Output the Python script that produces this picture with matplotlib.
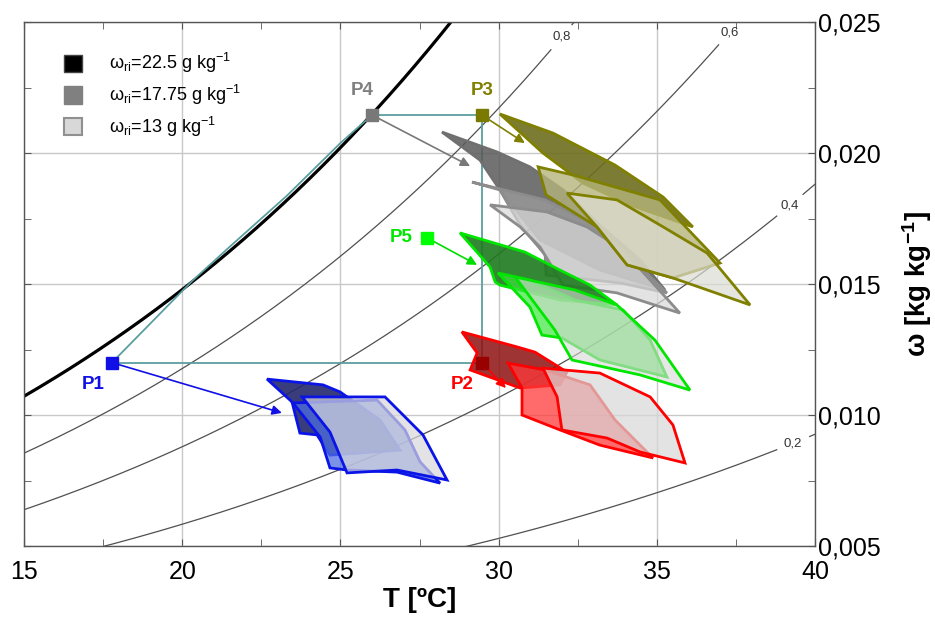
import numpy as np
import matplotlib
matplotlib.use('Agg')
import matplotlib.pyplot as plt
from matplotlib.colors import to_rgba
from matplotlib.patches import Patch
from matplotlib.ticker import MultipleLocator, FuncFormatter

plt.rcParams['font.family'] = ['Liberation Sans', 'DejaVu Sans']
plt.rcParams['mathtext.fontset'] = 'custom'
plt.rcParams['mathtext.rm'] = 'Liberation Sans'
plt.rcParams['mathtext.bf'] = 'Liberation Sans:bold'
plt.rcParams['mathtext.default'] = 'regular'

# relative humidity curves of the chart
P_ATM = 100.5  # kPa
rh_levels = [1.0, 0.8, 0.6, 0.4, 0.2]
rh_labels = ['', '0,8', '0,6', '0,4', '0,2']
rh_label_T = [None, 32.0, 37.3, 39.2, 39.3]

# state points (T in C, w in g/kg)
pt_names = ['P1', 'P2', 'P3', 'P4', 'P5']
pt_T = [17.78, 29.47, 29.47, 26.0, 27.74]
pt_w = [12.0, 12.0, 21.45, 21.45, 16.76]
arrow_T = [23.15, 30.23, 30.83, 29.10, 29.32]
arrow_w = [10.08, 11.03, 20.38, 19.50, 15.73]

# teal path P4 -> P1 (hugging the saturation line)
path_T = [26.0, 25.0, 23.3, 21.5, 20.3, 17.78]
path_w = [21.45, 20.38, 18.36, 16.42, 15.1, 12.0]

# outlet regions, one set per inlet point: dark = 22.5, mid = 17.75, light = 13 g/kg
bd_T = [22.68, 24.45, 24.99, 26.25, 26.88, 24.67, 24.26, 23.72, 23.47]
bd_w = [11.37, 11.15, 10.88, 9.81, 8.66, 8.47, 9.24, 9.31, 10.50]
bm_T = [23.50, 26.16, 27.04, 27.52, 28.15, 26.79, 25.21, 24.67, 24.36]
bm_w = [10.46, 10.57, 9.43, 8.21, 7.40, 7.82, 7.90, 7.98, 9.16]
bl_T = [23.79, 26.41, 27.61, 28.37, 26.79, 25.21, 24.67]
bl_w = [10.69, 10.69, 9.24, 7.52, 7.90, 7.79, 9.35]

rd_T = [28.84, 30.58, 31.15, 32.16, 31.94, 30.68, 29.10, 29.32]
rd_w = [13.17, 12.60, 12.40, 11.64, 11.15, 11.03, 11.72, 12.37]
rm_T = [30.30, 31.47, 32.89, 33.68, 34.88, 33.20, 31.94, 30.74, 30.74]
rm_w = [11.98, 11.72, 11.15, 9.81, 8.36, 8.85, 9.43, 10.00, 11.03]
rl_T = [31.40, 33.20, 34.79, 35.51, 35.89, 34.47, 33.43, 32.00, 31.85]
rl_w = [11.79, 11.60, 10.69, 9.62, 8.17, 8.59, 9.12, 9.43, 10.69]

gd_T = [28.78, 30.83, 31.94, 32.89, 33.74, 31.94, 30.04, 29.89, 29.73]
gd_w = [16.95, 16.22, 15.53, 14.96, 14.20, 14.39, 14.96, 15.08, 15.65]
gm_T = [29.98, 30.99, 32.41, 33.93, 34.79, 35.32, 33.20, 32.00, 31.37, 30.99]
gm_w = [15.42, 15.15, 14.39, 14.01, 12.86, 11.45, 12.10, 12.94, 13.05, 14.12]
gl_T = [30.52, 32.41, 33.74, 34.94, 36.05, 34.47, 32.32, 31.78]
gl_w = [15.27, 14.77, 14.20, 12.86, 10.95, 11.53, 12.10, 13.24]

kd_T = [28.21, 29.95, 30.99, 32.04, 33.20, 34.47, 35.26, 33.20, 31.31, 30.04, 29.41]
kd_w = [20.80, 20.04, 19.47, 18.59, 17.25, 15.92, 14.77, 15.53, 16.68, 18.59, 19.73]
km_T = [29.16, 31.47, 32.89, 33.99, 35.32, 33.84, 31.50, 31.47, 30.68, 30.04]
km_w = [18.89, 18.21, 17.37, 16.22, 14.66, 15.04, 15.34, 16.11, 17.25, 18.59]
kl_T = [29.73, 31.53, 32.79, 33.93, 35.73, 33.74, 32.04, 31.31, 30.68]
kl_w = [18.02, 17.75, 17.18, 16.30, 13.89, 14.66, 14.96, 16.41, 17.18]

od_T = [30.04, 31.72, 33.68, 35.20, 36.14, 34.15, 32.67, 31.40]
od_w = [21.49, 20.76, 19.54, 18.32, 17.18, 18.02, 18.85, 20.00]
om_T = [31.25, 32.35, 35.10, 37.00, 35.51, 34.06, 33.11, 31.50]
om_w = [19.47, 19.16, 18.21, 15.80, 15.23, 15.73, 17.18, 18.40]
ol_T = [32.16, 33.74, 35.20, 36.59, 37.95, 35.51, 34.06, 33.11]
ol_w = [18.47, 18.21, 17.18, 16.18, 14.20, 15.23, 15.73, 17.18]

legend_labels = ['ω$_{ri}$=22.5 g kg$^{-1}$', 'ω$_{ri}$=17.75 g kg$^{-1}$', 'ω$_{ri}$=13 g kg$^{-1}$']


def w_sat(T, phi):
    ps = 0.61094 * np.exp(17.625 * T / (T + 243.04))
    return 0.622 * phi * ps / (P_ATM - phi * ps)


fig = plt.figure(figsize=(9.35, 6.17), dpi=100)
ax = fig.add_axes([24 / 935, 1 - 546 / 617, 791 / 935, 524 / 617])
ax.set_xlim(15, 40)
ax.set_ylim(0.005, 0.025)

ax.grid(True, which='major', color='#c8c8c8', lw=1.0, zorder=0)

# RH curves
Tc = np.linspace(15, 40, 600)
for phi, lab, tl in zip(rh_levels, rh_labels, rh_label_T):
    wc = w_sat(Tc, phi)
    if phi == 1.0:
        ax.plot(Tc, wc, color='black', lw=2.3, zorder=2)
        continue
    wl = w_sat(tl, phi)
    mask = ((Tc - tl) / 0.55) ** 2 + ((wc - wl) / 0.00055) ** 2 < 1
    wc = np.where(mask, np.nan, wc)
    ax.plot(Tc, wc, color='#505050', lw=0.9, zorder=2)
    ax.text(tl, wl, lab, fontsize=9.5, ha='center', va='center', color='#333333', zorder=3)

# teal process lines
teal = '#5a9ea0'
ax.plot([pt_T[0], pt_T[1]], [pt_w[0] / 1000, pt_w[1] / 1000], color=teal, lw=1.3, zorder=3)
ax.plot([pt_T[1], pt_T[2]], [pt_w[1] / 1000, pt_w[2] / 1000], color=teal, lw=1.3, zorder=3)
ax.plot([pt_T[2], pt_T[3]], [pt_w[2] / 1000, pt_w[3] / 1000], color=teal, lw=1.3, zorder=3)
ax.plot(path_T, np.array(path_w) / 1000, color=teal, lw=1.3, zorder=3)

groups = [
    ('#8c8c8c', [(kd_T, kd_w, '#5a5a5a', 0.85, '#707070'),
                 (km_T, km_w, '#a0a0a0', 0.7, '#8c8c8c'),
                 (kl_T, kl_w, '#d8d8d8', 0.7, '#8c8c8c')]),
    ('#808000', [(od_T, od_w, '#6e6e1e', 0.9, '#808000'),
                 (om_T, om_w, '#b4b47c', 0.8, '#808000'),
                 (ol_T, ol_w, '#dcdcd4', 0.7, '#808000')]),
    ('#00e600', [(gd_T, gd_w, '#1e7a1e', 0.9, '#00e600'),
                 (gm_T, gm_w, '#3ce63c', 0.7, '#00e600'),
                 (gl_T, gl_w, '#d8d8d8', 0.6, '#00e600')]),
    ('#ff0000', [(rd_T, rd_w, '#8e1010', 0.85, '#ff0000'),
                 (rm_T, rm_w, '#ff3a3a', 0.75, '#ff0000'),
                 (rl_T, rl_w, '#d8d8d8', 0.7, '#ff0000')]),
    ('#0a14e6', [(bd_T, bd_w, '#23286e', 0.9, '#0a14e6'),
                 (bm_T, bm_w, '#4d6ee0', 0.75, '#0a14e6'),
                 (bl_T, bl_w, '#d8d8dc', 0.7, '#0a14e6')]),
]
z = 4
for _, polys in groups:
    for T, w, fc, a, ec in polys:
        ax.fill(T, np.array(w) / 1000, facecolor=to_rgba(fc, a), edgecolor=ec, lw=2.0, zorder=z)
        z += 0.1

# state points, labels and arrows
pt_colors = ['#1010e6', '#990000', '#7a7a00', '#787878', '#00ff00']
arrow_colors = ['#1010e6', '#ff0000', '#808000', '#787878', '#00dd00']
label_colors = ['#1010e6', '#ff0000', '#808000', '#808080', '#00e600']
label_offsets = [(-19, -22), (-20, -22), (0, 25), (-10, 25), (-26, 0)]
for i in range(5):
    ax.annotate('', xy=(arrow_T[i], arrow_w[i] / 1000), xytext=(pt_T[i], pt_w[i] / 1000),
                arrowprops=dict(arrowstyle='-|>', color=arrow_colors[i], lw=1.2,
                                mutation_scale=14, shrinkA=4, shrinkB=0), zorder=8)
    ax.plot(pt_T[i], pt_w[i] / 1000, 's', ms=9, color=pt_colors[i], mec=pt_colors[i], zorder=9)
    ax.annotate(pt_names[i], xy=(pt_T[i], pt_w[i] / 1000), xytext=label_offsets[i],
                textcoords='offset pixels', ha='center', va='center', fontsize=13.5,
                fontweight='bold', color=label_colors[i], zorder=9)

# legend
handles = [Patch(facecolor='black', edgecolor='#444444'),
           Patch(facecolor='#808080', edgecolor='#808080'),
           Patch(facecolor='#d8d8d8', edgecolor='#909090', lw=1.5)]
ax.legend(handles, legend_labels, loc='upper left', bbox_to_anchor=(0.03, 0.975),
          frameon=False, fontsize=13, handlelength=1.0, handleheight=1.1,
          handletextpad=1.5, labelspacing=0.42)

# axes styling
ax.xaxis.set_major_locator(MultipleLocator(5))
ax.xaxis.set_minor_locator(MultipleLocator(2.5))
ax.yaxis.set_major_locator(MultipleLocator(0.005))
ax.yaxis.set_minor_locator(MultipleLocator(0.0025))
ax.yaxis.set_major_formatter(FuncFormatter(lambda v, p: f'{v:.3f}'.replace('.', ',')))
ax.tick_params(which='both', direction='in', top=True, right=True, left=True, bottom=True,
               color='#555555')
ax.tick_params(which='major', length=5)
ax.tick_params(which='minor', length=5)
ax.tick_params(axis='y', labelleft=False, labelright=True, labelsize=18, pad=2)
ax.tick_params(axis='x', labelsize=18, pad=10)
for s in ax.spines.values():
    s.set_color('#555555')
    s.set_linewidth(1.0)

ax.set_xlabel('T [ºC]', fontsize=20, fontweight='bold', labelpad=2)
ax.yaxis.set_label_position('right')
ax.set_ylabel('ω [kg kg$^{\\mathbf{-1}}$]', fontsize=20, fontweight='bold', labelpad=14)

fig.savefig('out.png', dpi=100)
